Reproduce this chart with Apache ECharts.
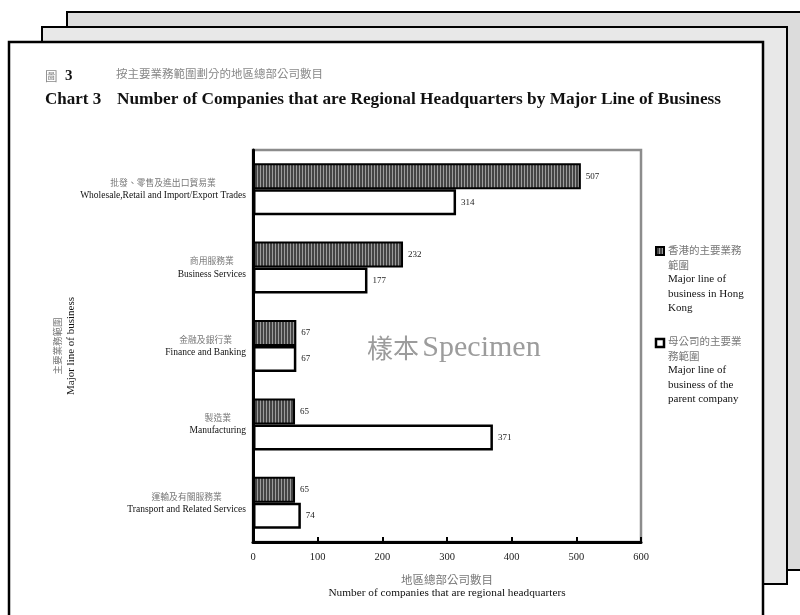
<!DOCTYPE html>
<html>
<head>
<meta charset="utf-8">
<script src="https://cdn.jsdelivr.net/npm/echarts@6/dist/echarts.min.js"></script>
<style>html,body{margin:0;padding:0;background:#fff;}#c{width:800px;height:615px;}</style>
</head>
<body>
<div id="c"></div>
<script>
// ---- data ----
var categoriesZh = ['批發、零售及進出口貿易業', '商用服務業', '金融及銀行業', '製造業', '運輸及有關服務業'];
var categoriesEn = ['Wholesale,Retail and Import/Export Trades', 'Business Services', 'Finance and Banking', 'Manufacturing', 'Transport and Related Services'];
var hkValues = [507, 232, 67, 65, 65];
var parentValues = [314, 177, 67, 371, 74];
var xTicks = [0, 100, 200, 300, 400, 500, 600];
var seriesNamesZh = ['香港的主要業務\n範圍', '母公司的主要業\n務範圍'];
var seriesNamesEn = ['Major line of\nbusiness in Hong\nKong', 'Major line of\nbusiness of the\nparent company'];

var SERIF = '"Liberation Serif","DejaVu Serif",serif';
var CJK = '"Noto Sans CJK TC","Noto Sans CJK SC",sans-serif';

// hatch pattern
var pc = document.createElement('canvas');
pc.width = 3; pc.height = 4;
var g = pc.getContext('2d');
g.fillStyle = '#444444'; g.fillRect(0, 0, 3, 4);
g.fillStyle = '#9c9c9c'; g.fillRect(2, 0, 1, 4);
var hatch = { image: pc, repeat: 'repeat' };

var chart = echarts.init(document.getElementById('c'));
chart.setOption({
  animation: false,
  backgroundColor: '#ffffff',
  grid: { left: 253, right: 159, top: 150, bottom: 73, show: true, borderColor: '#8c8c8c', borderWidth: 2.5, containLabel: false, outerBoundsMode: 'none' },
  xAxis: {
    type: 'value', min: xTicks[0], max: xTicks[xTicks.length - 1], interval: 100,
    axisLine: { show: true, lineStyle: { color: '#000', width: 3 } },
    axisTick: { show: true, inside: true, length: 5, lineStyle: { color: '#000', width: 2 } },
    splitLine: { show: false },
    axisLabel: { margin: 10, fontFamily: SERIF, fontSize: 10.5, color: '#222' },
    name: '{zh|地區總部公司數目}\n{en|Number of companies that are regional headquarters}',
    nameLocation: 'middle', nameGap: 31,
    nameTextStyle: { rich: { zh: { fontFamily: CJK, fontSize: 11.5, color: '#777', lineHeight: 13.5 }, en: { fontFamily: SERIF, fontSize: 11.3, color: '#111', lineHeight: 13.5 } } }
  },
  yAxis: {
    type: 'category', inverse: true, data: categoriesEn,
    axisLine: { show: true, lineStyle: { color: '#000', width: 3 } },
    axisTick: { show: false },
    axisLabel: {
      margin: 7, align: 'right',
      formatter: function (v, i) { return '{zh|' + categoriesZh[i] + '}\n{en|' + v + '}'; },
      rich: { zh: { fontFamily: CJK, fontSize: 8.8, color: '#777', lineHeight: 13, align: 'center' }, en: { fontFamily: SERIF, fontSize: 9.5, color: '#111', lineHeight: 13, align: 'right' } }
    },
    name: '{zh|主要業務範圍}\n{en|Major line of business}',
    nameLocation: 'middle', nameRotate: 90, nameGap: 170,
    nameTextStyle: { rich: { zh: { fontFamily: CJK, fontSize: 9.5, color: '#777', lineHeight: 13 }, en: { fontFamily: SERIF, fontSize: 11, color: '#111', lineHeight: 13 } } }
  },
  series: [
    {
      name: 'hk', type: 'bar', data: hkValues, barWidth: 26, barGap: '0%',
      itemStyle: { color: hatch, borderColor: '#000', borderWidth: 2 },
      label: { show: true, position: 'right', distance: 5, fontFamily: SERIF, fontSize: 9, color: '#222' }
    },
    {
      name: 'parent', type: 'bar', data: parentValues, barWidth: 26,
      itemStyle: { color: '#fff', borderColor: '#000', borderWidth: 2.5 },
      label: { show: true, position: 'right', distance: 5, fontFamily: SERIF, fontSize: 9, color: '#222' }
    }
  ],
  graphic: [
    { type: 'rect', z: -30, shape: { x: 67, y: 12, width: 760, height: 558 }, style: { fill: '#dcdcdc', stroke: '#000', lineWidth: 2 } },
    { type: 'rect', z: -20, shape: { x: 42, y: 27, width: 745, height: 557 }, style: { fill: '#e8e8e8', stroke: '#000', lineWidth: 2 } },
    { type: 'rect', z: -10, shape: { x: 9, y: 42, width: 754, height: 600 }, style: { fill: '#fff', stroke: '#000', lineWidth: 2.5 } },
    { type: 'text', z: 5, left: 45, top: 69, style: { text: '{zh|圖}{b|  3}', rich: { zh: { fontFamily: CJK, fontSize: 12.5, fill: '#888' }, b: { fontFamily: SERIF, fontSize: 15, fontWeight: 'bold', fill: '#111' } } } },
    { type: 'text', z: 5, left: 116, top: 68, style: { text: '按主要業務範圍劃分的地區總部公司數目', font: '11.5px ' + CJK, fill: '#888' } },
    { type: 'text', z: 5, left: 45, top: 91, style: { text: 'Chart 3', font: 'bold 17px ' + SERIF, fill: '#111' } },
    { type: 'text', z: 5, left: 117, top: 91, style: { text: 'Number of Companies that are Regional Headquarters by Major Line of Business', font: 'bold 17.3px ' + SERIF, fill: '#111' } },
    { type: 'text', z: 5, left: 367, top: 333, style: { text: '{zh|樣本} {en|Specimen}', rich: { zh: { fontFamily: CJK, fontSize: 26, fill: '#9c9c9c' }, en: { fontFamily: SERIF, fontSize: 30, fill: '#9c9c9c' } } } },
    // legend
    { type: 'rect', z: 5, shape: { x: 656, y: 247, width: 8, height: 8 }, style: { fill: hatch, stroke: '#000', lineWidth: 2 } },
    { type: 'text', z: 5, left: 668, top: 245, style: { text: '{zh|' + seriesNamesZh[0] + '}\n{en|' + seriesNamesEn[0] + '}', rich: { zh: { fontFamily: CJK, fontSize: 10.5, fill: '#777', lineHeight: 14.5 }, en: { fontFamily: SERIF, fontSize: 11, fill: '#111', lineHeight: 14.5 } } } },
    { type: 'rect', z: 5, shape: { x: 656, y: 339, width: 8, height: 8 }, style: { fill: '#fff', stroke: '#000', lineWidth: 2.5 } },
    { type: 'text', z: 5, left: 668, top: 336, style: { text: '{zh|' + seriesNamesZh[1] + '}\n{en|' + seriesNamesEn[1] + '}', rich: { zh: { fontFamily: CJK, fontSize: 10.5, fill: '#777', lineHeight: 14.5 }, en: { fontFamily: SERIF, fontSize: 11, fill: '#111', lineHeight: 14.5 } } } }
  ]
});
</script>
</body>
</html>
